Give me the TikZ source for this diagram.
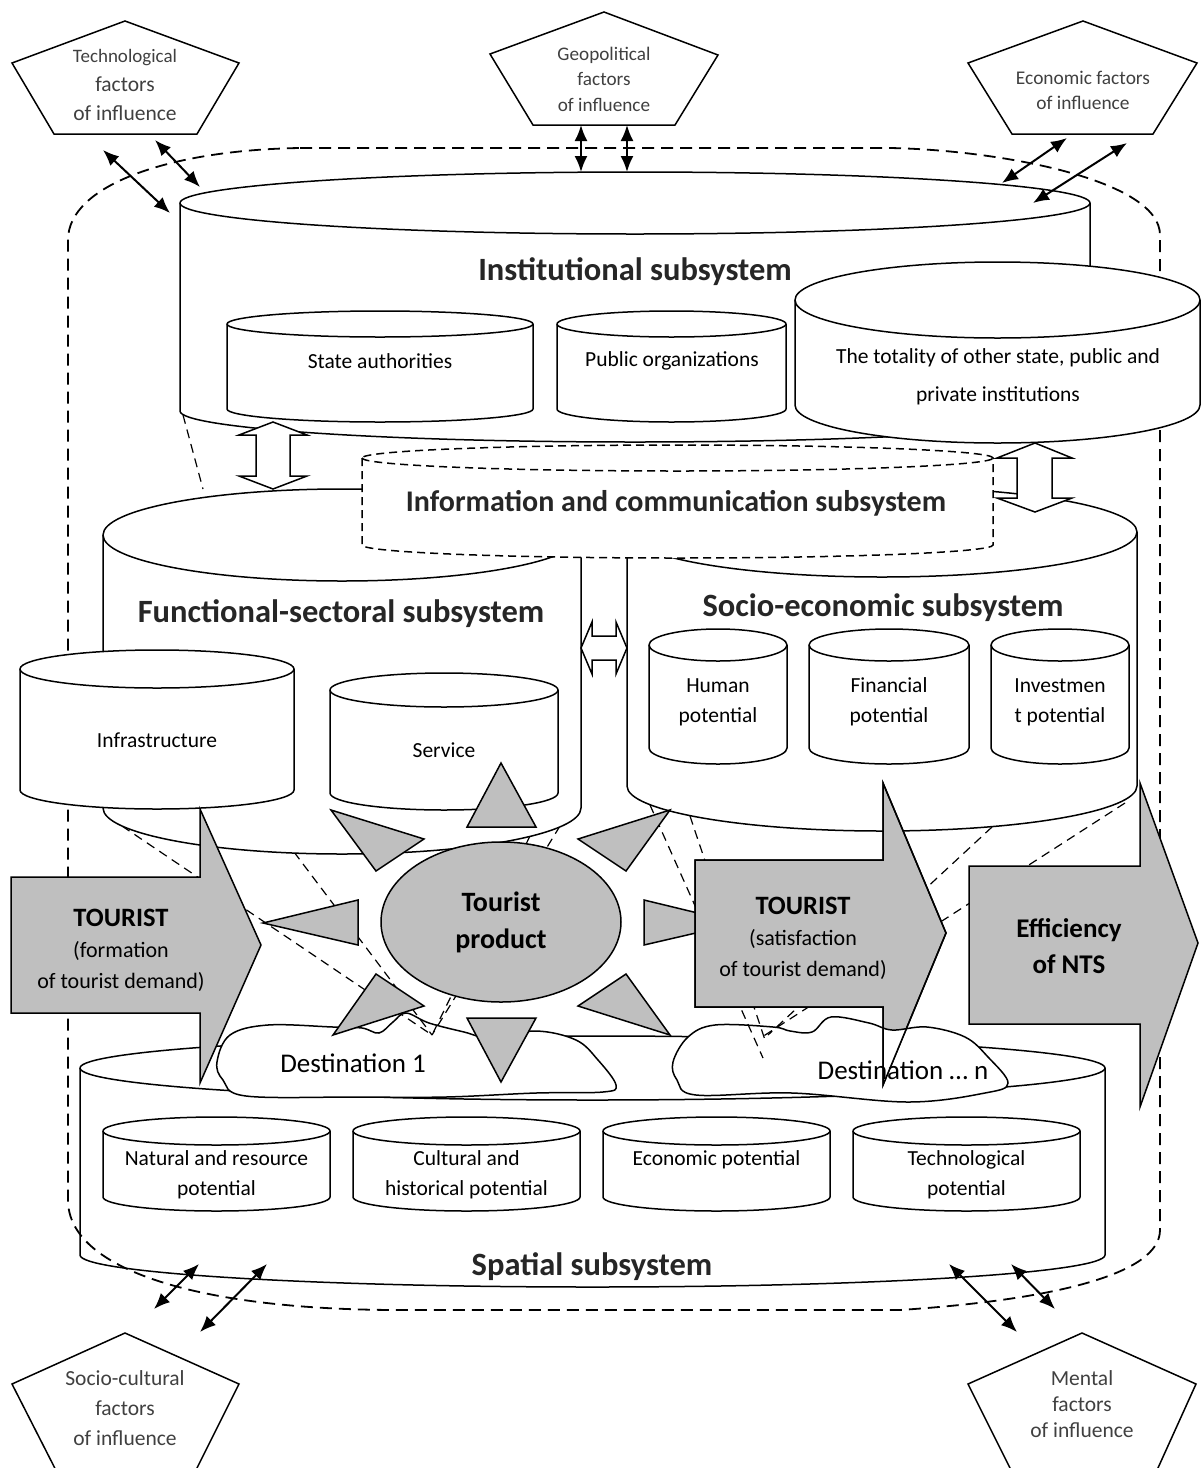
\documentclass[tikz,border=0pt]{standalone}
\usepackage{fontspec}
\setmainfont{Carlito}
\usepackage{tikz}
\usetikzlibrary{arrows.meta}
\usetikzlibrary{shapes.geometric}
\definecolor{uigray}{RGB}{191,191,191}

% cylinder: left x, right x, top centre y, bottom centre y, half height of the caps
\newcommand{\drawcyl}[6][]{%
  \pgfmathsetmacro\crx{(#3-#2)/2}%
  \filldraw[fill=white,#1] (#2,#4) -- (#2,#5)
    arc[start angle=180,end angle=360,x radius=\crx pt,y radius=#6pt] -- (#3,#4)
    arc[start angle=0,end angle=180,x radius=\crx pt,y radius=#6pt] -- cycle;
  \draw[#1] (#2,#4) arc[start angle=180,end angle=360,x radius=\crx pt,y radius=#6pt];
}

\begin{document}
\begin{tikzpicture}[x=1pt,y=-1pt,line width=1.5pt,>={Latex[length=16pt,width=13pt]},
    cyl text/.style={font=\fontsize{21.5}{30}\selectfont,align=center},
    sub title/.style={font=\bfseries\fontsize{32.5}{36}\selectfont,text=black!85},
    factor/.style={font=\fontsize{21}{27}\selectfont,align=center,text=black!75},
    arrow text/.style={font=\fontsize{22}{31}\selectfont,align=center},
    gray shape/.style={draw,fill=uigray},
    block/.style={draw,fill=white},
    both way/.style={<->,line width=2pt},
    link/.style={line width=1.2pt,dash pattern=on 9pt off 6pt}]
  \useasboundingbox (0,0) rectangle (1202,1468);
  \clip (0,0) rectangle (1202,1468);

  % spatial subsystem
  \drawcyl{80}{1105}{1068}{1255}{32}
  \node[sub title] (spatial) at (592,1267) {Spatial subsystem};
  \foreach \xa/\xb/\yt/\name/\txt in {103/330/1175/natural/{Natural and resource\\potential},
      353/580/1175/cultural/{Cultural and\\historical potential},
      603/830/1160/economic/{Economic potential},
      853/1080/1175/techpot/{Technological\\potential}} {
    \drawcyl{\xa}{\xb}{1131}{1197}{14}
    \node[cyl text] (\name) at ({(\xa+\xb)/2},\yt) {\txt};
  }

  % system boundary
  \draw[line width=1.8pt,dash pattern=on 12pt off 7pt] (300,148) -- (890,148)
    .. controls (1000,150) and (1160,180) .. (1160,235) -- (1160,1230)
    .. controls (1160,1275) and (1050,1300) .. (900,1310) -- (400,1310)
    .. controls (200,1310) and (68,1270) .. (68,1200) -- (68,240)
    .. controls (68,185) and (170,150) .. (300,148);

  % destinations
  \filldraw[fill=white] plot[smooth cycle,tension=0.6] coordinates {(217,1062) (230,1035)
    (268,1025) (333,1027) (362,1028) (379,1033) (393,1022) (406,1013) (429,1023) (464,1032)
    (491,1038) (536,1031) (576,1040) (598,1060) (616,1085) (603,1092) (536,1093) (446,1097)
    (357,1097) (246,1096) (223,1080)};
  \filldraw[fill=white] plot[smooth cycle,tension=0.6] coordinates {(673,1062) (688,1037)
    (715,1025) (773,1027) (790,1031) (812,1032) (831,1017) (869,1023) (892,1030) (927,1027)
    (965,1037) (988,1057) (1008,1083) (985,1093) (908,1102) (792,1093) (696,1095) (677,1080)};

  % institutional subsystem
  \drawcyl{180}{1090}{203}{411}{31}
  \node[sub title] (inst) at (635,272) {Institutional subsystem};
  \drawcyl{227}{533}{324}{409}{13}
  \node[cyl text] (state) at (380,361) {State authorities};
  \drawcyl{557}{786}{324}{409}{13}
  \node[cyl text] (public) at (672,361) {Public organizations};
  \drawcyl{795}{1200}{300}{405}{38}
  \node[cyl text,font=\fontsize{21.5}{38}\selectfont] (others) at (998,377)
    {The totality of other state, public and\\private institutions};

  % links to the destinations
  \draw[link] (183,415) -- (203,489);
  \foreach \xa/\ya/\xb/\yb in {122/826/432/1035, 294/852/432/1035, 560/826/432/1035,
      530/836/432/1035, 650/805/763/1058, 690/816/765/1040, 992/827/768/1035,
      1125/803/762/1037}
    \draw[link] (\xa,\ya) -- (\xb,\yb);

  % functional-sectoral subsystem
  \drawcyl{103}{581}{535}{808}{46}
  \node[sub title] (func) at (341,614) {Functional-sectoral subsystem};
  \drawcyl{20}{294}{669}{790}{19}
  \node[cyl text] (infra) at (157,740) {Infrastructure};
  \drawcyl{330}{558}{690}{793}{17}
  \node[cyl text] (service) at (444,750) {Service};

  % socio-economic subsystem
  \drawcyl{627}{1137}{532}{786}{45}
  \node[sub title] (socio) at (883,608) {Socio-economic subsystem};
  \foreach \xa/\xb/\name/\txt in {649/787/human/{Human\\potential},
      809/969/financial/{Financial\\potential}, 991/1129/invest/{Investmen\\t potential}} {
    \drawcyl{\xa}{\xb}{645}{748}{16}
    \node[cyl text] (\name) at ({(\xa+\xb)/2},702) {\txt};
  }

  % information and communication subsystem
  \drawcyl[dash pattern=on 8pt off 5pt]{362}{993}{458}{545}{13}
  \node[sub title,font=\bfseries\fontsize{30}{34}\selectfont] (info) at (676,503)
    {Information and communication subsystem};

  % exchange arrows
  \draw[block] (273,422) -- (307,435) -- (290,435) -- (290,476) -- (307,476) -- (273,489)
    -- (239,476) -- (256,476) -- (256,435) -- (239,435) -- cycle;
  \draw[block] (1035,443) -- (1072,458) -- (1052,458) -- (1052,498) -- (1072,498)
    -- (1035,512) -- (997,498) -- (1017,498) -- (1017,458) -- (997,458) -- cycle;
  \draw[block] (581,648) -- (592,622) -- (592,636) -- (616,636) -- (616,622) -- (627,648)
    -- (616,674) -- (616,660) -- (592,660) -- (592,674) -- cycle;

  % tourist product
  \foreach \ax/\ay/\bx/\by/\cx/\cy in {501/763/467/827/536/827, 331/810/424/839/376/871,
      263/923/358/900/358/945, 376/974/424/1006/333/1035, 467/1018/536/1018/501/1082,
      626/974/578/1006/670/1035, 626/871/578/839/670/810, 644/900/644/945/739/923}
    \filldraw[gray shape] (\ax,\ay) -- (\bx,\by) -- (\cx,\cy) -- cycle;
  \node[ellipse,gray shape,minimum width=240pt,minimum height=160pt,inner sep=0pt,
    font=\bfseries\fontsize{28}{37}\selectfont,align=center] (product) at (501,922)
    {Tourist\\product};

  % big arrows
  \filldraw[gray shape] (11,877) -- (200,877) -- (200,809) -- (261,945) -- (200,1083)
    -- (200,1013) -- (11,1013) -- cycle;
  \filldraw[gray shape] (695,860) -- (883,860) -- (883,783) -- (946,933) -- (883,1085)
    -- (883,1007) -- (695,1007) -- cycle;
  \filldraw[gray shape] (969,866) -- (1140,866) -- (1140,783) -- (1198,943) -- (1140,1107)
    -- (1140,1024) -- (969,1024) -- cycle;
  \begin{scope}
    \clip (695,860) -- (883,860) -- (883,783) -- (946,933) -- (883,1085) -- (883,1007)
      -- (695,1007) -- cycle;
    \filldraw[fill=white] plot[smooth cycle,tension=0.6] coordinates {(673,1062) (688,1037)
      (715,1025) (773,1027) (790,1031) (812,1032) (831,1017) (869,1023) (892,1030) (927,1027)
      (965,1037) (988,1057) (1008,1083) (985,1093) (908,1102) (792,1093) (696,1095) (677,1080)};
  \end{scope}
  \draw (695,860) -- (883,860) -- (883,783) -- (946,933) -- (883,1085) -- (883,1007)
    -- (695,1007) -- cycle;

  \node[arrow text] (demand) at (121,950)
    {{\bfseries\fontsize{26.5}{34}\selectfont TOURIST}\\(formation\\of tourist demand)};
  \node[arrow text] (satisf) at (803,938)
    {{\bfseries\fontsize{26.5}{33}\selectfont TOURIST}\\(satisfaction\\of tourist demand)};
  \node[font=\bfseries\fontsize{27}{36}\selectfont,align=center] (nts) at (1069,946)
    {Efficiency\\of NTS};
  \node[font=\fontsize{27}{30}\selectfont] (dest1) at (353,1063) {Destination 1};
  \node[font=\fontsize{27}{30}\selectfont] (destn) at (903,1070) {Destination … n};

  % factors of influence
  \draw[fill=white] (125,21) -- (239,63) -- (197,134) -- (54,134) -- (12,63) -- cycle;
  \node[factor,font=\fontsize{21.5}{29}\selectfont] (techf) at (125,85)
    {{\fontsize{19}{29}\selectfont Technological}\\factors\\of influence};
  \draw[fill=white] (604,12) -- (718,55) -- (675,125) -- (533,125) -- (490,54) -- cycle;
  \node[factor,font=\fontsize{19.2}{25.5}\selectfont] (geof) at (604,79)
    {Geopolitical\\factors\\of influence};
  \draw[fill=white] (1083,21) -- (1197,63) -- (1153,134) -- (1012,134) -- (968,63) -- cycle;
  \node[factor,font=\fontsize{19.4}{25}\selectfont] (econf) at (1083,90)
    {Economic factors\\of influence};
  \draw[fill=white] (125,1333) -- (239,1384) -- (186,1490) -- (66,1490) -- (12,1384) -- cycle;
  \node[factor,font=\fontsize{21.5}{30}\selectfont] (socf) at (125,1408)
    {Socio-cultural\\factors\\of influence};
  \draw[fill=white] (1082,1333) -- (1196,1384) -- (1148,1490) -- (1021,1490) -- (968,1384) -- cycle;
  \node[factor,font=\fontsize{21.5}{26}\selectfont] (mentf) at (1082,1404)
    {Mental\\factors\\of influence};

  \draw[both way] (103,150) -- (170,213);
  \draw[both way] (155,140) -- (200,187);
  \draw[both way] (581,125) -- (581,172);
  \draw[both way] (627,125) -- (627,172);
  \draw[both way] (1067,138) -- (1002,183);
  \draw[both way] (1127,143) -- (1033,203);
  \draw[both way] (199,1264) -- (154,1309);
  \draw[both way] (267,1264) -- (200,1332);
  \draw[both way] (949,1264) -- (1017,1332);
  \draw[both way] (1011,1264) -- (1055,1309);
\end{tikzpicture}
\end{document}
